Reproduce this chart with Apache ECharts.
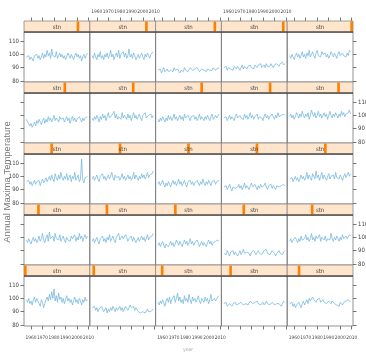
<!DOCTYPE html>
<html>
<head>
<meta charset="utf-8">
<script src="https://cdn.jsdelivr.net/npm/echarts@6/dist/echarts.min.js"></script>
<style>
  html, body { margin: 0; padding: 0; background: #fff; }
  #chart { width: 366px; height: 354px; }
</style>
</head>
<body>
<div id="chart"></div>
<script>
// years on the x axis
const years = [1956, 1957, 1958, 1959, 1960, 1961, 1962, 1963, 1964, 1965,
  1966, 1967, 1968, 1969, 1970, 1971, 1972, 1973, 1974, 1975,
  1976, 1977, 1978, 1979, 1980, 1981, 1982, 1983, 1984, 1985,
  1986, 1987, 1988, 1989, 1990, 1991, 1992, 1993, 1994, 1995,
  1996, 1997, 1998, 1999, 2000, 2001, 2002, 2003, 2004, 2005,
  2006, 2007, 2008, 2009];
const xTicks = [1960, 1970, 1980, 1990, 2000, 2010];
const yTicks = [80, 90, 100, 110];

// annual maxima per station (level 1 = bottom-left panel)
const stn01 = [99,97,100,96,98,95,99,101,97,100, 98,96,94,99,97,93,96,99,101,98, 103,99,105,100,107,98,102,97,104,99, 101,97,100,96,99,102,98,100,97,99, 95,98,101,97,99,96,100,98,95,99, 97,101,98,99];
const stn02 = [93,92,94,91,93,90,92,91,94,92, 90,91,93,89,92,90,93,91,94,92, 90,93,91,92,94,91,93,90,92,94, 93,91,92,95,93,92,94,91,93,92, 90,91,89,88,90,91,89,90,92,90, 91,90,91,92];
const stn03 = [97,95,98,96,99,97,94,98,100,97, 101,96,99,98,102,97,100,104,98,101, 97,99,96,102,98,100,97,103,99,96, 101,98,100,97,99,102,98,96,100,99, 97,101,98,100,96,99,103,98,97,100, 98,99,101,102];
const stn04 = [96,95,97,94,95,96,95,94,96,95, 97,95,94,96,95,97,96,95,94,96, 97,95,96,98,97,96,95,97,96,98, 96,97,95,96,97,95,96,98,96,97, 95,96,97,96,95,94,96,95,96,95, 94,96,98,97];
const stn05 = [96,95,97,94,96,93,95,94,97,95, 93,96,98,95,97,99,96,100,98,97, 101,99,98,97,99,98,100,97,98,99, 97,98,96,97,98,97,96,98,97,96, 97,95,96,94,97,96,95,97,96,98, 97,99,98,97];
const stn06 = [98,96,99,97,95,98,100,97,99,96, 98,101,97,99,103,98,96,100,102,97, 104,99,98,101,97,103,99,100,98,102, 97,99,101,98,96,100,98,99,97,101, 99,98,102,97,100,98,103,99,101,97, 100,102,99,101];
const stn07 = [97,99,96,98,100,97,95,99,98,101, 97,99,96,100,98,102,97,99,101,98, 96,100,99,103,98,97,101,99,98,102, 100,97,99,98,101,97,100,99,96,98, 100,97,99,101,98,100,97,99,102,98, 100,99,101,103];
const stn08 = [94,96,93,95,97,94,92,95,96,93, 95,97,94,96,93,95,98,96,94,97, 95,93,96,98,95,97,94,96,99,95, 97,94,96,95,98,96,93,95,97,94, 96,95,93,96,98,95,97,94,96,95, 97,96,98,97];
const stn09 = [88,89,87,90,88,86,89,88,90,87, 89,88,86,88,90,87,89,91,88,87, 89,90,88,86,89,88,90,89,87,88, 90,88,89,87,88,90,89,91,88,89, 87,88,90,89,88,86,88,89,90,88, 89,87,89,90];
const stn10 = [97,99,96,98,97,100,98,96,99,97, 101,98,97,99,102,98,100,97,99,103, 98,100,97,101,99,98,102,97,100,99, 98,101,97,99,100,98,103,99,97,100, 98,101,99,97,100,98,102,99,98,101, 99,100,102,101];
const stn11 = [96,95,97,94,96,93,95,97,94,96, 95,97,93,96,98,95,97,99,96,98, 100,97,101,98,96,102,99,97,101,98, 103,99,97,100,98,102,97,99,101,96, 100,98,103,97,99,101,96,98,113,97, 95,99,98,100];
const stn12 = [98,100,97,99,101,98,96,100,99,102, 98,100,97,99,101,98,100,103,99,97, 101,99,98,100,97,99,102,98,100,97, 99,101,98,100,97,99,103,98,101,99, 97,100,98,102,99,101,98,100,103,99, 101,100,102,104];
const stn13 = [94,96,93,95,97,94,92,95,93,96, 94,92,95,97,94,96,93,95,98,94, 96,93,95,97,94,92,96,95,97,94, 96,93,95,94,97,95,93,96,94,98, 95,93,96,94,97,95,93,96,95,97, 94,96,95,97];
const stn14 = [92,91,93,90,92,94,91,89,92,93, 91,90,92,94,91,93,90,92,95,91, 93,92,90,93,95,92,91,94,92,90, 93,91,94,92,91,93,95,92,90,93, 92,94,91,93,92,90,93,94,92,91, 93,92,94,93];
const stn15 = [98,97,99,96,98,100,97,99,96,98, 101,98,100,97,99,103,98,101,99,97, 102,100,98,104,99,101,97,100,103,98, 101,99,97,100,102,98,100,99,101,98, 103,99,100,98,101,99,97,100,102,99, 101,103,100,102];
const stn16 = [97,95,96,92,94,91,93,95,92,96, 94,97,95,93,96,98,94,97,95,99, 96,98,95,97,100,96,98,97,95,99, 97,96,98,95,97,99,96,98,94,97, 99,96,98,95,97,96,99,97,95,98, 96,98,97,99];
const stn17 = [98,96,99,97,100,98,95,99,97,101, 98,100,96,99,102,98,97,100,99,103, 98,101,97,99,100,97,102,98,100,99, 97,101,98,100,96,99,102,98,100,97, 99,101,98,96,100,99,102,98,97,100, 99,101,98,100];
const stn18 = [97,95,98,96,99,97,95,98,96,100, 97,99,96,98,101,97,99,96,98,100, 97,99,96,101,98,97,100,98,96,99, 98,100,97,99,96,98,101,97,99,98, 96,99,97,100,98,96,99,101,97,98, 100,98,99,101];
const stn19 = [98,97,99,96,98,100,97,99,98,96, 99,101,98,97,100,98,99,97,101,98, 100,97,99,102,98,100,97,99,98,101, 97,99,100,98,96,99,101,98,100,97, 99,98,101,99,97,100,98,102,99,98, 100,99,101,100];
const stn20 = [99,101,98,100,97,99,102,100,98,101, 99,103,100,98,101,99,102,97,100,104, 101,99,102,98,100,103,99,101,98,100, 102,99,101,97,100,103,100,98,101,99, 102,100,98,101,99,103,100,102,99,101, 100,102,104,101];
const stn21 = [98,97,99,96,98,97,95,99,98,100, 97,99,96,98,101,97,100,98,103,99, 101,97,104,99,100,98,102,97,99,101, 98,100,97,99,96,98,101,99,97,100, 98,96,99,101,98,100,97,99,95,98, 100,97,99,101];
const stn22 = [99,97,101,98,96,100,98,102,97,99, 96,100,98,101,97,99,103,98,100,96, 99,101,98,103,97,100,99,102,98,101, 97,99,104,98,100,97,101,99,96,98, 100,97,99,101,98,96,100,98,101,99, 97,100,99,102];
const stn23 = [88,87,89,86,88,90,87,88,89,87, 86,88,89,87,90,88,87,89,88,86, 88,89,87,90,88,89,87,88,90,89, 88,87,89,88,90,89,87,88,89,90, 88,89,87,89,90,88,89,88,90,89, 88,89,90,89];
const stn24 = [90,89,91,88,90,91,89,90,88,91, 90,89,91,90,88,90,92,89,91,90, 89,91,90,92,90,91,89,92,91,90, 92,91,93,90,91,92,90,93,91,92, 91,93,92,90,92,91,93,92,91,93, 92,94,92,93];
const stn25 = [99,97,100,98,96,99,101,98,100,97, 99,102,98,100,97,101,99,103,98,100, 102,99,97,101,103,99,100,98,102,100, 99,101,98,100,97,99,102,100,98,101, 99,97,100,102,99,98,101,99,100,98, 101,99,103,102];

const stations = [stn01, stn02, stn03, stn04, stn05, stn06, stn07, stn08, stn09, stn10,
  stn11, stn12, stn13, stn14, stn15, stn16, stn17, stn18, stn19, stn20,
  stn21, stn22, stn23, stn24, stn25];

// layout of the 5 x 5 lattice
const left0 = 24, right0 = 353, top0 = 21;
const nCol = 5, nRow = 5;
const colW = (right0 - left0) / nCol;
const rowH = 61, stripH = 11;
const tickFont = "'Liberation Sans Narrow', 'DejaVu Sans Condensed', sans-serif";

const chart = echarts.init(document.getElementById('chart'), null, { renderer: 'canvas' });

const grids = [], xAxes = [], yAxes = [], series = [], graphics = [];

for (let r = 0; r < nRow; r++) {
  for (let c = 0; c < nCol; c++) {
    const i = grids.length;
    const lvl = (nRow - 1 - r) * nCol + c; // panels fill from bottom-left
    const gx = left0 + c * colW;
    const gy = top0 + r * rowH;

    grids.push({
      left: gx, top: gy + stripH, width: colW, height: rowH - stripH,
      show: true, borderColor: '#777', borderWidth: 0.8,
      containLabel: false, outerBoundsMode: 'none'
    });

    const showX = r === 0 || r === nRow - 1;
    const labX = (r === 0 && c % 2 === 1) || (r === nRow - 1 && c % 2 === 0);
    xAxes.push({
      gridIndex: i, type: 'value', min: 1953.9, max: 2011.1,
      show: showX,
      position: r === 0 ? 'top' : 'bottom',
      offset: r === 0 ? stripH : 0,
      axisLine: { show: false },
      splitLine: { show: false },
      axisTick: { show: true, length: 3.5, customValues: xTicks, lineStyle: { color: '#555', width: 0.8 } },
      axisLabel: { show: labX, customValues: xTicks, fontSize: 4.8, fontFamily: tickFont,
        color: '#444', margin: r === 0 ? 7 : 9, hideOverlap: false,
        showMinLabel: true, showMaxLabel: true,
        formatter: v => String(v) }
    });

    const showY = c === 0 || c === nCol - 1;
    const labY = (c === 0 && r % 2 === 0) || (c === nCol - 1 && r % 2 === 1);
    yAxes.push({
      gridIndex: i, type: 'value', min: 79.25, max: 116.75,
      show: showY,
      position: c === 0 ? 'left' : 'right',
      axisLine: { show: false },
      splitLine: { show: false },
      axisTick: { show: true, length: 3.5, customValues: yTicks, lineStyle: { color: '#555', width: 0.8 } },
      axisLabel: { show: labY, customValues: yTicks, fontSize: 6, fontFamily: tickFont,
        color: '#444', margin: 5, hideOverlap: false }
    });

    series.push({
      type: 'line', xAxisIndex: i, yAxisIndex: i,
      data: years.map((y, k) => [y, stations[lvl][k]]),
      showSymbol: false, symbol: 'none',
      lineStyle: { color: '#72b6dd', width: 0.75 },
      silent: true
    });

    // strip with level marker
    graphics.push({
      type: 'rect', z: 10,
      shape: { x: gx, y: gy, width: colW, height: stripH },
      style: { fill: '#ffe5cc', stroke: '#888', lineWidth: 0.8 }
    });
    graphics.push({
      type: 'rect', z: 11,
      shape: { x: gx + lvl * colW / stations.length, y: gy + 0.5, width: colW / stations.length, height: stripH - 1 },
      style: { fill: '#ff7f00' }
    });
    graphics.push({
      type: 'text', z: 12,
      x: gx + colW / 2, y: gy + stripH / 2 + 0.5,
      style: { text: 'stn', fontSize: 6, fontFamily: tickFont, fill: '#444',
        textAlign: 'center', verticalAlign: 'middle', textVerticalAlign: 'middle' }
    });
    graphics.push({
      type: 'line', z: 12,
      shape: { x1: gx, y1: gy + stripH, x2: gx + colW, y2: gy + stripH },
      style: { stroke: '#222', lineWidth: 1 }
    });
  }
}

// axis titles
graphics.push({
  type: 'text', z: 12, x: 7, y: 182, rotation: Math.PI / 2,
  style: { text: 'Annual Maxima Temperature', fontSize: 9.5, fontFamily: "'Liberation Sans', Arial, sans-serif",
    fill: '#777', textAlign: 'center', verticalAlign: 'middle', textVerticalAlign: 'middle' }
});
graphics.push({
  type: 'text', z: 12, x: 188, y: 350,
  style: { text: 'year', fontSize: 5, fontFamily: tickFont, fill: '#aaa',
    textAlign: 'center', verticalAlign: 'middle', textVerticalAlign: 'middle' }
});

chart.setOption({
  animation: false,
  backgroundColor: '#fff',
  grid: grids,
  xAxis: xAxes,
  yAxis: yAxes,
  series: series,
  graphic: graphics
});
</script>
</body>
</html>
